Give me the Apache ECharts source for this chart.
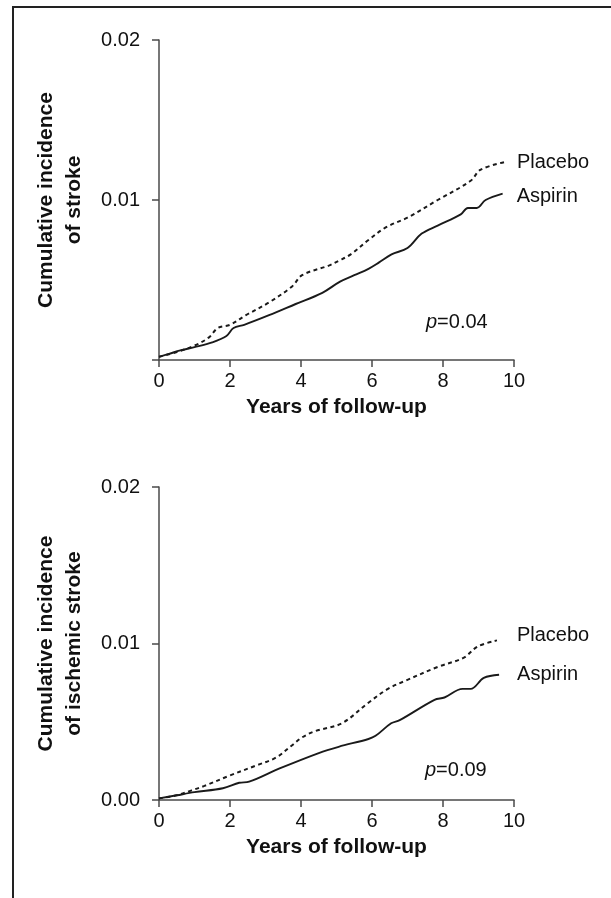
<!DOCTYPE html>
<html>
<head>
<meta charset="utf-8">
<script src="https://cdn.jsdelivr.net/npm/echarts@6/dist/echarts.min.js"></script>
<style>
html,body{margin:0;padding:0;background:#fff;}
#c{width:611px;height:898px;}
</style>
</head>
<body>
<div id="c"></div>
<script>
// ---- Data (years of follow-up, cumulative incidence) ----
const xTicks = [0, 2, 4, 6, 8, 10];

// Panel 1: stroke
const strokeAspirinT = [0, 0.3, 0.6, 1.0, 1.5, 1.9, 2.1, 2.4, 3.1, 3.85, 4.6, 5.1, 5.5, 5.9, 6.2, 6.55, 7.0, 7.4, 7.85, 8.5, 8.7, 8.95, 9.2, 9.68];
const strokeAspirinV = [0.0002, 0.0004, 0.0006, 0.0008, 0.0011, 0.0015, 0.0020, 0.0022, 0.0028, 0.0035, 0.0042, 0.0049, 0.0053, 0.0057, 0.0061, 0.0066, 0.0070, 0.0079, 0.0084, 0.0091, 0.0095, 0.0095, 0.0100, 0.0104];
const strokePlaceboT = [0, 0.5, 1.0, 1.4, 1.66, 2.0, 2.45, 3.1, 3.75, 4.03, 4.78, 5.06, 5.4, 5.9, 6.4, 7.0, 7.85, 8.78, 9.06, 9.8];
const strokePlaceboV = [0.0002, 0.0005, 0.0009, 0.0014, 0.0020, 0.0022, 0.0028, 0.0036, 0.0046, 0.0053, 0.0059, 0.0062, 0.0066, 0.0075, 0.0083, 0.0089, 0.0100, 0.0112, 0.0119, 0.0124];

// Panel 2: ischemic stroke
const ischAspirinT = [0, 0.5, 1.0, 1.8, 2.26, 2.54, 3.38, 4.5, 5.06, 5.9, 6.1, 6.54, 6.78, 7.76, 8.04, 8.55, 8.78, 9.15, 9.58];
const ischAspirinV = [0.0001, 0.0003, 0.0005, 0.00075, 0.0011, 0.00117, 0.0020, 0.0030, 0.0034, 0.0039, 0.0041, 0.0049, 0.0051, 0.0064, 0.00655, 0.0071, 0.0071, 0.0078, 0.0080];
const ischPlaceboT = [0, 0.5, 0.9, 1.28, 1.98, 2.73, 3.29, 3.75, 4.03, 4.4, 5.15, 5.89, 6.45, 6.92, 7.85, 8.59, 8.97, 9.52];
const ischPlaceboV = [0.0001, 0.0003, 0.0006, 0.0009, 0.00155, 0.0022, 0.0027, 0.0035, 0.0040, 0.0044, 0.0049, 0.0062, 0.0071, 0.0076, 0.0085, 0.0091, 0.0098, 0.0102];

const yTicks1 = [0.01, 0.02];
const yTicks2 = [0.00, 0.01, 0.02];

const yTitle1 = 'Cumulative incidence\nof stroke';
const yTitle2 = 'Cumulative incidence\nof ischemic stroke';
const xTitle = 'Years of follow-up';
const pText1 = '0.04';
const pText2 = '0.09';
const nameAspirin = 'Aspirin';
const nameTreatPlacebo = 'Placebo';

// ---- Build ----
function pairs(t, v) { return t.map((x, i) => [x, v[i]]); }

const FONT = '"Liberation Sans", Arial, Helvetica, sans-serif';
const AXIS_COLOR = '#4a4a4a';
const TEXT_COLOR = '#111';
const FS = 20;
const FS_BOLD = 21;

function xAxisCfg(gridIndex) {
  return {
    type: 'value', gridIndex, min: 0, max: 10, interval: 2,
    axisLine: { show: true, lineStyle: { color: AXIS_COLOR, width: 1.5 } },
    axisTick: { show: true, inside: false, length: 7, lineStyle: { color: AXIS_COLOR, width: 1.5 } },
    axisLabel: { color: TEXT_COLOR, fontFamily: FONT, fontSize: FS, margin: 11 },
    splitLine: { show: false },
    name: xTitle, nameLocation: 'middle', nameGap: 37,
    nameTextStyle: { color: TEXT_COLOR, fontFamily: FONT, fontSize: FS_BOLD, fontWeight: 'bold' }
  };
}
function yAxisCfg(gridIndex, title, showZero) {
  return {
    type: 'value', gridIndex, min: 0, max: 0.02, interval: 0.01,
    axisLine: { show: true, lineStyle: { color: AXIS_COLOR, width: 1.5 } },
    axisTick: { show: true, inside: false, length: 7, lineStyle: { color: AXIS_COLOR, width: 1.5 } },
    axisLabel: {
      color: TEXT_COLOR, fontFamily: FONT, fontSize: FS, margin: 19,
      formatter: v => (v === 0 && !showZero) ? '' : v.toFixed(2)
    },
    splitLine: { show: false },
    name: title, nameLocation: 'middle', nameGap: 71, nameRotate: 90,
    nameTextStyle: { color: TEXT_COLOR, fontFamily: FONT, fontSize: FS_BOLD, fontWeight: 'bold', lineHeight: 28, align: 'center' }
  };
}
function lineSeries(name, idx, data, dashed, endDist, dy) {
  return {
    type: 'line', name, xAxisIndex: idx, yAxisIndex: idx,
    data, showSymbol: false, smooth: 0.35,
    lineStyle: { color: '#1a1a1a', width: dashed ? 2 : 1.9, type: dashed ? [4, 3.5] : 'solid' },
    endLabel: { show: true, formatter: name, color: TEXT_COLOR, fontFamily: FONT, fontSize: FS, distance: endDist, offset: [0, dy] },
    silent: true, animation: false
  };
}

const option = {
  animation: false,
  backgroundColor: '#fff',
  grid: [
    { left: 159, top: 40, width: 355, height: 320 },
    { left: 159, top: 487, width: 355, height: 313 }
  ],
  xAxis: [xAxisCfg(0), xAxisCfg(1)],
  yAxis: [yAxisCfg(0, yTitle1, false), yAxisCfg(1, yTitle2, true)],
  series: [
    lineSeries(nameTreatPlacebo, 0, pairs(strokePlaceboT, strokePlaceboV), true, 10, 1),
    lineSeries(nameAspirin, 0, pairs(strokeAspirinT, strokeAspirinV), false, 14, 3),
    lineSeries(nameTreatPlacebo, 1, pairs(ischPlaceboT, ischPlaceboV), true, 20, -5),
    lineSeries(nameAspirin, 1, pairs(ischAspirinT, ischAspirinV), false, 18, 0)
  ],
  graphic: [
    { type: 'rect', shape: { x: 13, y: 7, width: 700, height: 1000 }, style: { fill: 'none', stroke: '#222', lineWidth: 2 }, silent: true },
    { type: 'text', x: 426, y: 322, style: { text: '{i|p}=' + pText1, rich: { i: { fontStyle: 'italic', fontFamily: FONT, fontSize: FS, fill: TEXT_COLOR } }, font: FS + 'px ' + FONT, fill: TEXT_COLOR, verticalAlign: 'middle' } },
    { type: 'text', x: 425, y: 770, style: { text: '{i|p}=' + pText2, rich: { i: { fontStyle: 'italic', fontFamily: FONT, fontSize: FS, fill: TEXT_COLOR } }, font: FS + 'px ' + FONT, fill: TEXT_COLOR, verticalAlign: 'middle' } }
  ]
};

const chart = echarts.init(document.getElementById('c'), null, { renderer: 'canvas' });
chart.setOption(option);
</script>
</body>
</html>
